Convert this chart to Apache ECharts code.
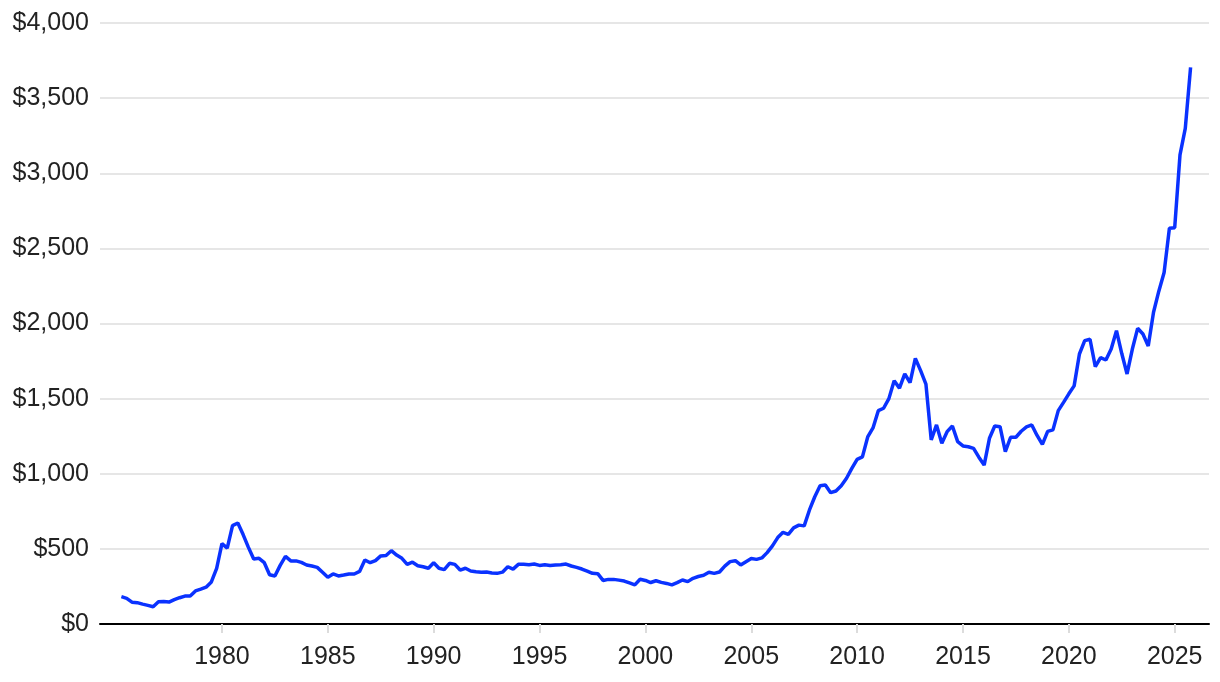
<!DOCTYPE html>
<html>
<head>
<meta charset="utf-8">
<script src="https://cdn.jsdelivr.net/npm/echarts@6/dist/echarts.min.js"></script>
<style>
  html, body { margin: 0; padding: 0; background: #fff; }
  #chartBox { width: 1220px; height: 682px; }
</style>
</head>
<body>
<div id="chartBox"></div>
<script>
// quarterly gold price (USD / oz), first point 1975 Q2, one value per quarter
var startYear = 1975.25
var goldPrice = [
  182, 171, 145,
  142, 132, 124, 115,
  148, 150, 146, 162,
  175, 186, 186, 220,
  232, 245, 280, 370,
  535, 505, 655, 672,
  595, 510, 432, 437,
  408, 328, 320, 390,
  450, 420, 420, 410,
  393, 386, 377, 344,
  311, 333, 320, 326,
  333, 333, 350, 426,
  408, 422, 453, 456,
  488, 459, 437, 397,
  411, 388, 381, 371,
  408, 371, 362, 404,
  397, 359, 371, 353,
  348, 345, 346, 340,
  337, 345, 381, 365,
  397, 397, 395, 399,
  390, 395, 390, 393,
  395, 399, 386, 377,
  366, 352, 337, 335,
  290, 297, 297, 292,
  286, 273, 260, 298,
  290, 276, 288, 277,
  270, 260, 275, 293,
  282, 304, 316, 324,
  344, 337, 346, 385,
  415, 421, 393, 415,
  436, 430, 440, 475,
  520, 575, 610, 597,
  640, 658, 653, 759,
  847, 920, 925, 874,
  885, 920, 970, 1036,
  1096, 1112, 1245, 1305,
  1420, 1436, 1500, 1619,
  1570, 1665, 1606, 1768,
  1686, 1597, 1225, 1325,
  1203, 1280, 1318, 1214,
  1185, 1180, 1169, 1110,
  1058, 1236, 1318, 1313,
  1147, 1243, 1243, 1283,
  1312, 1325, 1255, 1195,
  1282, 1292, 1420, 1475,
  1532, 1585, 1797, 1886,
  1895, 1713, 1773, 1757,
  1830, 1952, 1800, 1664,
  1830, 1968, 1930, 1850,
  2075, 2215, 2340, 2634,
  2638, 3122, 3299, 3705
]
var yearTicks = [1980, 1985, 1990, 1995, 2000, 2005, 2010, 2015, 2020, 2025]

var seriesData = goldPrice.map(function (v, i) {
  return [startYear + i * 0.25, v]
})

var fontName = '"Liberation Sans", Arial, sans-serif'
var myChart = echarts.init(document.getElementById('chartBox'))
myChart.setOption({
  animation: false,
  grid: {
    left: 100,
    right: 11,
    top: 23,
    bottom: 58
  },
  xAxis: {
    type: 'value',
    min: 1974.24,
    max: 2026.62,
    splitLine: { show: false },
    axisLine: {
      lineStyle: { color: '#000', width: 2 }
    },
    axisTick: {
      show: true,
      customValues: yearTicks,
      length: 9,
      lineStyle: { color: '#dcdcdc', width: 2 }
    },
    axisLabel: {
      customValues: yearTicks,
      margin: 21,
      color: '#222',
      fontSize: 25,
      fontFamily: fontName,
      formatter: function (v) { return String(v) }
    }
  },
  yAxis: {
    type: 'value',
    min: 0,
    max: 4000,
    interval: 500,
    axisLine: { show: false },
    axisTick: { show: false },
    splitLine: {
      lineStyle: { color: '#e6e6e6', width: 2 }
    },
    axisLabel: {
      margin: 11,
      color: '#222',
      fontSize: 25,
      fontFamily: fontName,
      formatter: function (v) {
        return '$' + echarts.format.addCommas(v)
      }
    }
  },
  series: [{
    type: 'line',
    data: seriesData,
    showSymbol: false,
    lineStyle: { color: '#0a32ff', width: 3.5 },
    z: 3
  }]
})
</script>
</body>
</html>
